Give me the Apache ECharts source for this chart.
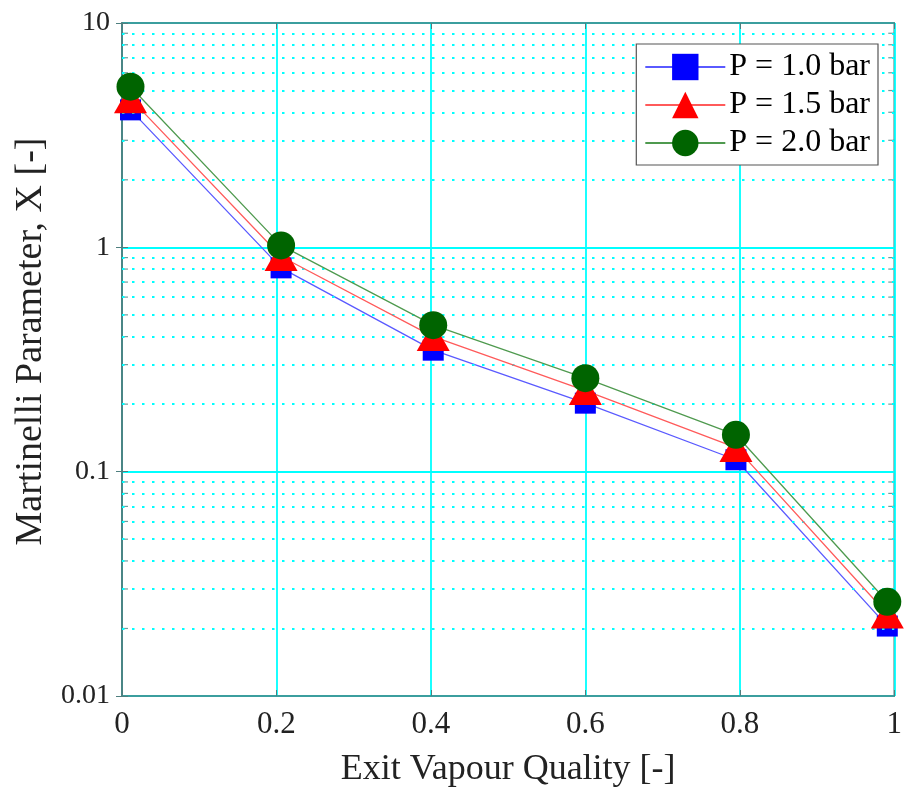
<!DOCTYPE html>
<html>
<head>
<meta charset="utf-8">
<script src="https://cdn.jsdelivr.net/npm/echarts@6/dist/echarts.min.js"></script>
<style>html,body{margin:0;padding:0;background:#fff}#c{width:905px;height:794px}</style>
</head>
<body>
<div id="c"></div>
<script>
// Data
const quality = [0.011, 0.206, 0.403, 0.600, 0.795, 0.991];
const xP10 = [4.1, 0.81, 0.348, 0.202, 0.113, 0.0205];
const xP15 = [4.6, 0.91, 0.40, 0.230, 0.128, 0.0232];
const xP20 = [5.2, 1.02, 0.45, 0.261, 0.146, 0.0263];
const seriesNames = ['P = 1.0 bar', 'P = 1.5 bar', 'P = 2.0 bar'];
const xTicks = [0, 0.2, 0.4, 0.6, 0.8, 1];
const yDecades = [0.01, 0.1, 1, 10];

// minor log positions (2..9 per decade)
const minorVals = [];
for (let d = 0; d < yDecades.length - 1; d++) {
  for (let m = 2; m <= 9; m++) minorVals.push(+(yDecades[d] * m).toPrecision(3));
}

const FONT = '"Liberation Serif", "Times New Roman", serif';
const CYAN = '#00ffff';
const AXIS = '#4f7f7f';

const chart = echarts.init(document.getElementById('c'), null, {renderer: 'canvas'});

function pts(ys) { return quality.map((q, i) => [q, ys[i]]); }

const option = {
  animation: false,
  backgroundColor: '#fff',
  grid: {left: 122, top: 23, width: 777, height: 673, show: true, borderColor: AXIS, borderWidth: 1.5, backgroundColor: 'transparent', containLabel: false},
  legend: {
    right: 27, top: 44,
    z: 100,
    orient: 'vertical',
    backgroundColor: '#fff',
    borderColor: '#555', borderWidth: 1.2,
    padding: [7, 8, 6, 8],
    itemGap: 6,
    itemWidth: 80, itemHeight: 33,
    textStyle: {fontFamily: FONT, fontSize: 32, color: '#000', padding: [0, 0, 0, -1]},
    data: seriesNames
  },
  xAxis: [{
    type: 'value', min: 0, max: 1, interval: 0.2,
    name: 'Exit Vapour Quality [-]', nameLocation: 'middle', nameGap: 56,
    nameTextStyle: {fontFamily: FONT, fontSize: 36, color: '#222'},
    axisLine: {show: true, onZero: false, lineStyle: {color: AXIS, width: 1.5}},
    axisTick: {show: true, inside: true, length: 6, lineStyle: {color: AXIS}},
    axisLabel: {fontFamily: FONT, fontSize: 31, color: '#222', margin: 13,
      formatter: v => String(+v.toFixed(1))},
    splitLine: {show: true, lineStyle: {color: CYAN, width: 1.8}}
  }, {
    type: 'value', min: 0, max: 1, interval: 0.2, position: 'top',
    axisLine: {show: true, lineStyle: {color: AXIS, width: 1.5}},
    axisTick: {show: true, inside: true, length: 6, lineStyle: {color: AXIS}},
    axisLabel: {show: false}, splitLine: {show: false}
  }],
  yAxis: [{
    type: 'log', logBase: 10, min: 0.01, max: 10,
    name: 'Martinelli Parameter, X [-]', nameLocation: 'middle', nameGap: 66, nameRotate: 90,
    nameTextStyle: {fontFamily: FONT, fontSize: 38, color: '#222', padding: [0, 0, 0, 36]},
    axisLine: {show: true, lineStyle: {color: AXIS, width: 1.5}},
    axisTick: {show: true, inside: true, length: 6, lineStyle: {color: AXIS}},
    axisLabel: {fontFamily: FONT, fontSize: 28, color: '#222', margin: 12,
      formatter: v => String(+(+v).toPrecision(2))},
    splitLine: {show: true, lineStyle: {color: CYAN, width: 1.8}}
  }, {
    type: 'log', logBase: 10, min: 0.01, max: 10, position: 'right',
    axisLine: {show: true, lineStyle: {color: AXIS, width: 1.5}},
    axisTick: {show: true, inside: true, length: 6, lineStyle: {color: AXIS}},
    axisLabel: {show: false}, splitLine: {show: false}
  }],
  series: [
    {
      type: 'line', name: '_minor', silent: true, data: [], symbol: 'none',
      markLine: {
        silent: true, symbol: 'none', label: {show: false}, animation: false,
        lineStyle: {color: CYAN, width: 2.2, type: [2.5, 7.5]},
        data: minorVals.map(v => ({yAxis: v}))
      },
      z: 1
    },
    {
      type: 'scatter', name: '_ticksL', silent: true, z: 3,
      symbol: 'rect', symbolSize: [6, 1.2], symbolOffset: [3, 0],
      itemStyle: {color: AXIS},
      data: minorVals.map(v => [0, v])
    },
    {
      type: 'scatter', name: '_ticksR', silent: true, z: 3,
      symbol: 'rect', symbolSize: [6, 1.2], symbolOffset: [-3, 0],
      itemStyle: {color: AXIS},
      data: minorVals.map(v => [1, v])
    },
    {
      type: 'line', name: seriesNames[0], data: pts(xP10), z: 4,
      symbol: 'rect', symbolSize: 21,
      lineStyle: {color: '#5a5aff', width: 1.3},
      itemStyle: {color: '#0000ff'}
    },
    {
      type: 'line', name: seriesNames[1], data: pts(xP15), z: 5,
      symbol: 'triangle', symbolSize: [33, 29],
      lineStyle: {color: '#ff5a5a', width: 1.3},
      itemStyle: {color: '#ff0000'}
    },
    {
      type: 'line', name: seriesNames[2], data: pts(xP20), z: 6,
      symbol: 'circle', symbolSize: 28,
      lineStyle: {color: '#4f9a4f', width: 1.3},
      itemStyle: {color: '#006400'}
    }
  ]
};
chart.setOption(option);
</script>
</body>
</html>
